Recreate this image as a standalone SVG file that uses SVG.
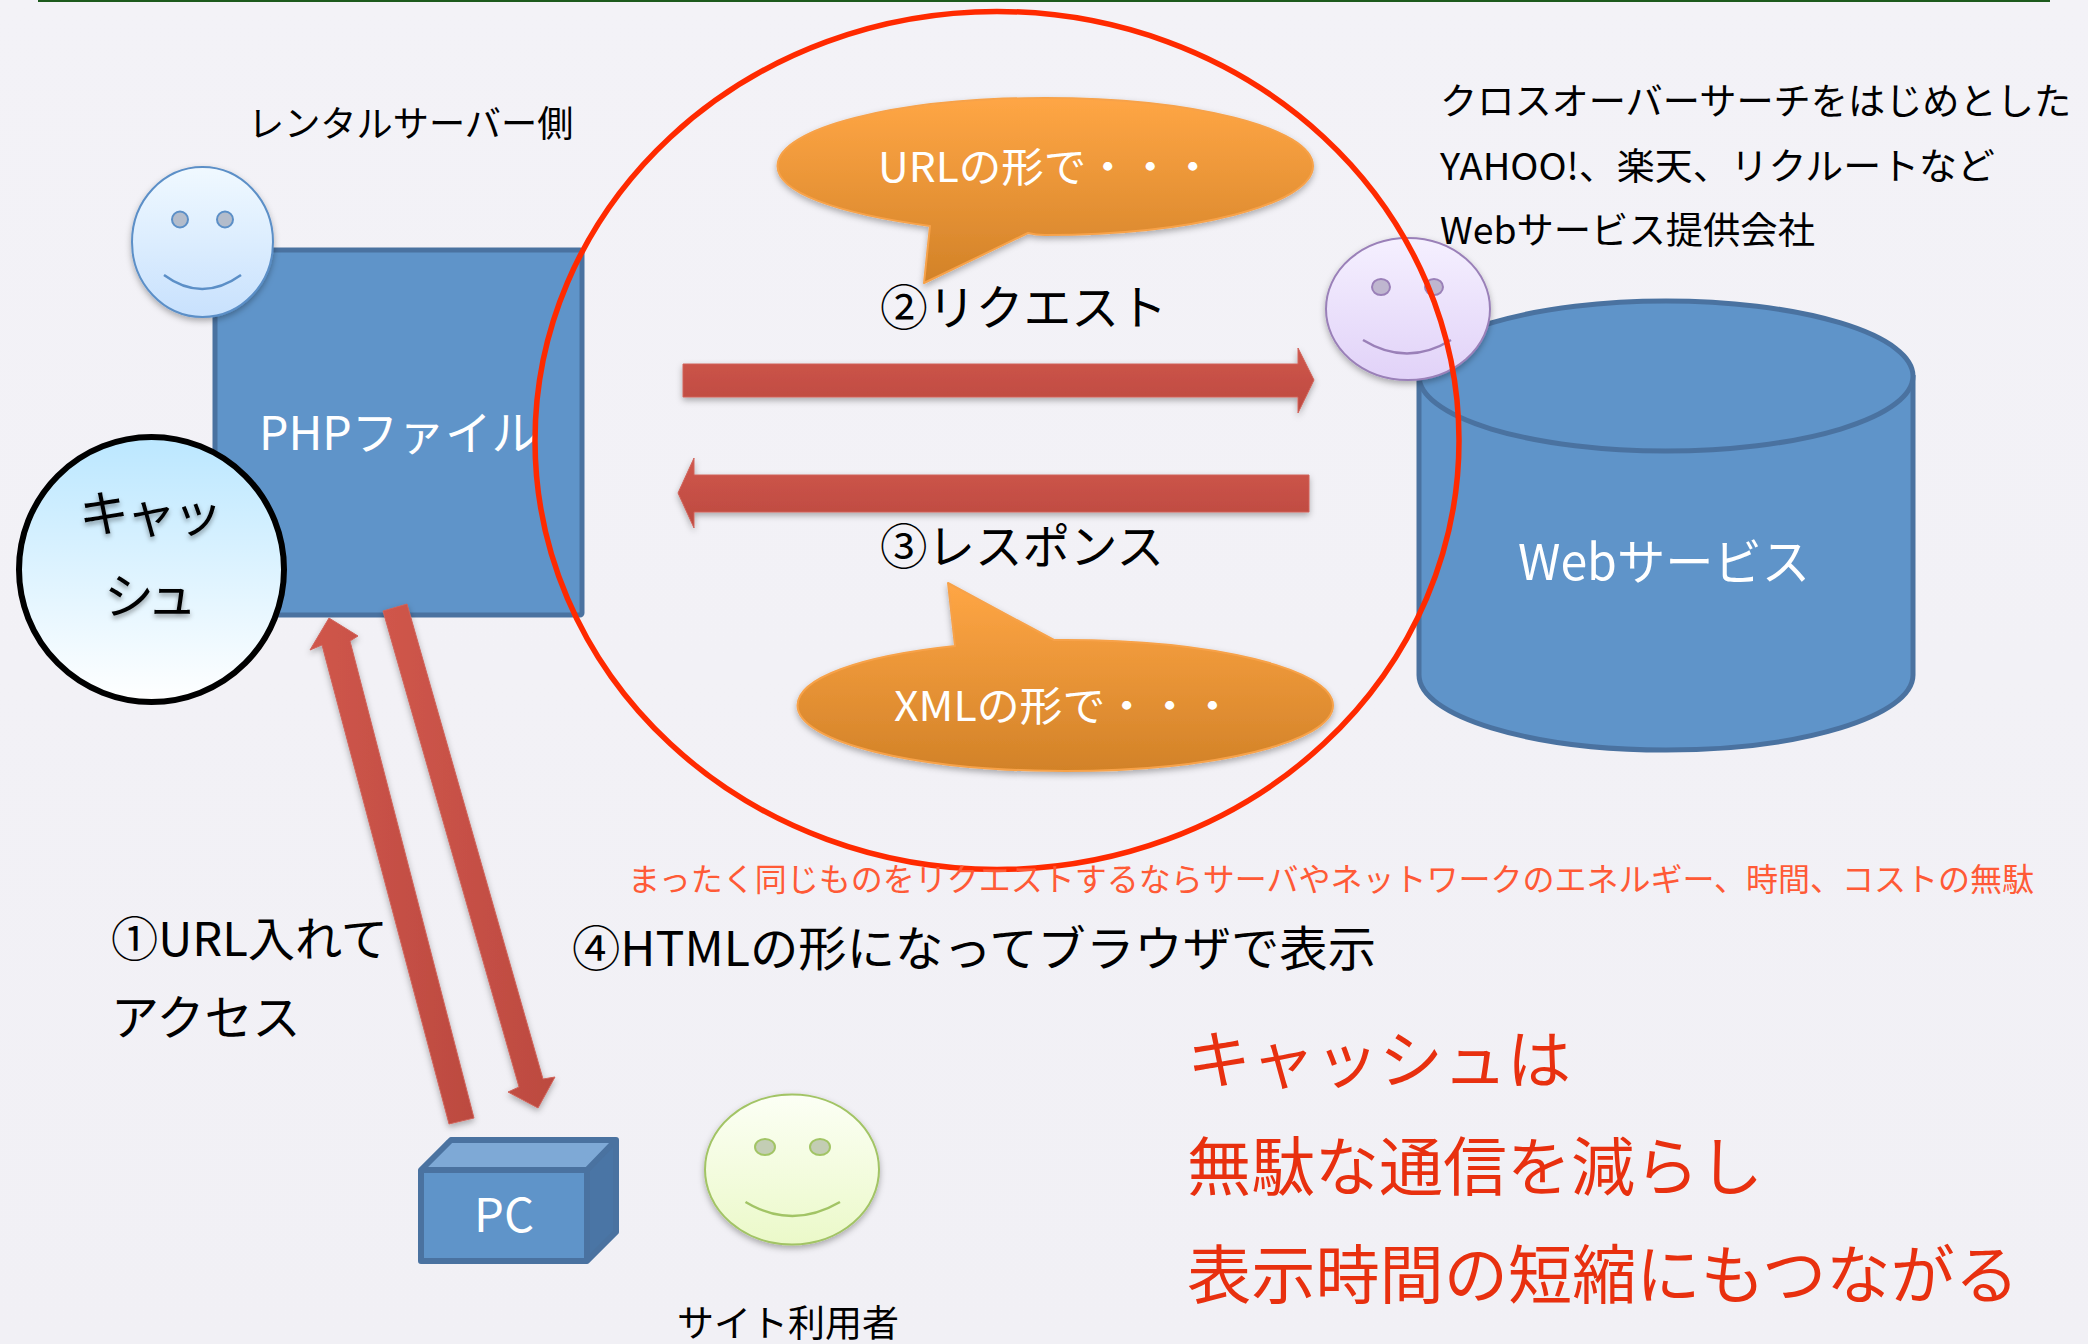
<svg xmlns="http://www.w3.org/2000/svg" width="2088" height="1344" viewBox="0 0 2088 1344">
<defs>
<style>
text{font-family:"Noto Sans CJK JP","Noto Sans",sans-serif;fill:#000}
.w{fill:#fff}
.blue{fill:#5f94c9;stroke:#4a72a0;stroke-width:5;stroke-linejoin:round}
.r1{fill:#ff5a36}
.r2{fill:#e8300f}
.call{fill:url(#gCall);stroke:#f7a24a;stroke-width:2;stroke-linejoin:round;filter:url(#sh)}
.arrow{stroke:#d0635a;stroke-width:1;filter:url(#sh)}
.mouth{fill:none;stroke-width:2.5}
</style>
<filter id="sh" x="-20%" y="-20%" width="140%" height="150%"><feDropShadow dx="0" dy="3" stdDeviation="3" flood-color="#000" flood-opacity="0.3"/></filter>
<filter id="tsh" x="-20%" y="-20%" width="140%" height="150%"><feDropShadow dx="0" dy="3" stdDeviation="2.5" flood-color="#000" flood-opacity="0.4"/></filter>
<linearGradient id="gBg" x1="0" y1="0" x2="0" y2="1"><stop offset="0" stop-color="#f3f2f7"/><stop offset="1" stop-color="#f1f0f5"/></linearGradient>
<linearGradient id="gBlue" x1="0" y1="0" x2="0" y2="1"><stop offset="0" stop-color="#f0f9ff"/><stop offset="1" stop-color="#c8e1fd"/></linearGradient>
<linearGradient id="gPurple" x1="0" y1="0" x2="0" y2="1"><stop offset="0" stop-color="#f5f0ff"/><stop offset="1" stop-color="#e1d2f8"/></linearGradient>
<linearGradient id="gGreen" x1="0" y1="0" x2="0" y2="1"><stop offset="0" stop-color="#fcfff5"/><stop offset="1" stop-color="#ebf9c9"/></linearGradient>
<linearGradient id="gCache" x1="0" y1="0" x2="0" y2="1"><stop offset="0" stop-color="#bbe7ff"/><stop offset="1" stop-color="#ffffff"/></linearGradient>
<linearGradient id="gCall" x1="0" y1="0" x2="0" y2="1"><stop offset="0" stop-color="#ffa645"/><stop offset="1" stop-color="#d28228"/></linearGradient>
<linearGradient id="gArr" x1="0" y1="0" x2="0" y2="1"><stop offset="0" stop-color="#d0564b"/><stop offset="1" stop-color="#bc4a40"/></linearGradient>
<linearGradient id="gArrD" x1="0" y1="0" x2="1" y2="0"><stop offset="0" stop-color="#d0564b"/><stop offset="1" stop-color="#bc4a40"/></linearGradient>
</defs>
<rect width="2088" height="1344" fill="url(#gBg)"/>
<rect x="38" y="0" width="2012" height="2" fill="#1d5a1d"/>

<g id="php-file">
<rect class="blue" x="215" y="250" width="367" height="365" rx="2"/>
<text class="w" x="259" y="450" font-size="47" textLength="279" lengthAdjust="spacingAndGlyphs">PHPファイル</text>
</g>
<g id="server-smiley" filter="url(#sh)">
<ellipse cx="202.500" cy="242" rx="70.500" ry="75" fill="url(#gBlue)" stroke="#5b8fc7" stroke-width="2"/>
<ellipse cx="180" cy="219.500" rx="8" ry="8" fill="#b3bccb" stroke="#5b8fc7" stroke-width="2"/>
<ellipse cx="225" cy="219.500" rx="8" ry="8" fill="#b3bccb" stroke="#5b8fc7" stroke-width="2"/>
<path class="mouth" stroke="#5b8fc7" d="M164 275Q202 303 241 275"/>
</g>
<g id="cache">
<ellipse cx="151.500" cy="569.500" rx="132.500" ry="132.500" fill="url(#gCache)" stroke="#000" stroke-width="6"/>
<g filter="url(#tsh)">
<text x="79" y="532" font-size="50" textLength="144" lengthAdjust="spacing">キャッ</text>
<text x="104" y="614" font-size="50" textLength="93" lengthAdjust="spacing">シュ</text>
</g>
</g>
<text id="server-label" x="248" y="137" font-size="36.200">レンタルサーバー側</text>

<g id="web-service">
<path class="blue" d="M1419 375V675C1419 716 1530 750 1666 750S1913 716 1913 675V375"/>
<ellipse class="blue" cx="1666" cy="376" rx="247" ry="75"/>
<text class="w" x="1518" y="580" font-size="49" textLength="292" lengthAdjust="spacingAndGlyphs">Webサービス</text>
</g>
<g id="web-smiley" filter="url(#sh)">
<ellipse cx="1408" cy="309" rx="82" ry="71" fill="url(#gPurple)" stroke="#9a80b8" stroke-width="2"/>
<ellipse cx="1381" cy="287" rx="9" ry="8" fill="#bfb6cf" stroke="#9a80b8" stroke-width="2"/>
<ellipse cx="1434" cy="287" rx="9" ry="8" fill="#bfb6cf" stroke="#9a80b8" stroke-width="2"/>
<path class="mouth" stroke="#9a80b8" d="M1363 340Q1407 367 1451 340"/>
</g>
<g id="web-label">
<text x="1440" y="115" font-size="37.200">クロスオーバーサーチをはじめとした</text>
<text x="1440" y="180" font-size="37" textLength="555" lengthAdjust="spacingAndGlyphs">YAHOO!、楽天、リクルートなど</text>
<text x="1440" y="244" font-size="37" textLength="375" lengthAdjust="spacingAndGlyphs">Webサービス提供会社</text>
</g>

<g id="connectors">
<polygon class="arrow" fill="url(#gArr)" points="683,364 1298,364 1298,348 1314,380 1298,413 1298,397 683,397"/>
<polygon class="arrow" fill="url(#gArr)" points="1309,475 694,475 694,458 678,493 694,528 694,512 1309,512"/>
<polygon class="arrow" fill="url(#gArrD)" points="329,618 358,636 350,641 474,1118 449,1124 322,645 310,650"/>
<polygon class="arrow" fill="url(#gArrD)" points="383,611 407,604 543,1079 555,1077 538,1108 508,1092 519,1087"/>
</g>

<g id="url-callout">
<path class="call" d="M930 226C835 213 777.500 192 777.500 166C777.500 128 897 98 1045 98S1313 128 1313 166S1193 235 1045 235Q1036 235 1028 233L924 283Z"/>
<text class="w" x="878" y="182" font-size="41" textLength="336" lengthAdjust="spacingAndGlyphs">URLの形で・・・</text>
</g>
<g id="xml-callout">
<path class="call" d="M955 646C860 656 797.500 678 797.500 705.500C797.500 742 917 771 1065 771S1333 742 1333 705.500S1213 640 1065 640Q1059 640 1054 640L948 583Z"/>
<text class="w" x="894" y="721" font-size="41" textLength="340" lengthAdjust="spacingAndGlyphs">XMLの形で・・・</text>
</g>
<text id="request-label" x="880" y="325" font-size="48" textLength="287" lengthAdjust="spacingAndGlyphs">②リクエスト</text>
<text id="response-label" x="880" y="564" font-size="48" textLength="284" lengthAdjust="spacingAndGlyphs">③レスポンス</text>

<ellipse id="highlight" cx="997" cy="440.500" rx="462" ry="429" fill="none" stroke="#ff2a00" stroke-width="5.500"/>

<text id="waste-note" class="r1" x="628" y="891" font-size="32">まったく同じものをリクエストするならサーバやネットワークのエネルギー、時間、コストの無駄</text>
<text id="html-label" x="572" y="966" font-size="47.500" textLength="804" lengthAdjust="spacingAndGlyphs">④HTMLの形になってブラウザで表示</text>
<g id="access-label">
<text x="111" y="956" font-size="47" textLength="277" lengthAdjust="spacingAndGlyphs">①URL入れて</text>
<text x="111" y="1035" font-size="48">アクセス</text>
</g>

<g id="pc">
<path fill="#7ea9d6" d="M421 1170L447 1140H617L587 1170Z"/>
<path fill="#4a75a5" d="M587 1170L617 1140V1232L587 1263Z"/>
<path fill="none" stroke="#4a72a0" stroke-width="6" stroke-linejoin="round" d="M421 1170L451 1140H616V1232L587 1261H421ZM421 1170H587V1261M587 1170L616 1140"/>
<rect x="424" y="1173" width="160" height="85" fill="#5f94c9"/>
<text class="w" x="474" y="1232" font-size="47" textLength="60" lengthAdjust="spacingAndGlyphs">PC</text>
</g>
<g id="user-smiley" filter="url(#sh)">
<ellipse cx="792" cy="1169.500" rx="87" ry="75" fill="url(#gGreen)" stroke="#a2c465" stroke-width="2"/>
<ellipse cx="765" cy="1147" rx="10" ry="8" fill="#c3cdb4" stroke="#a2c465" stroke-width="2"/>
<ellipse cx="820" cy="1147" rx="10" ry="8" fill="#c3cdb4" stroke="#a2c465" stroke-width="2"/>
<path class="mouth" stroke="#a2c465" d="M745.500 1202Q792 1230 840 1202"/>
</g>
<text id="user-label" x="677" y="1337" font-size="37">サイト利用者</text>

<g id="conclusion">
<text class="r2" x="1187" y="1083" font-size="64">キャッシュは</text>
<text class="r2" x="1187" y="1190" font-size="64">無駄な通信を減らし</text>
<text class="r2" x="1187" y="1298" font-size="64.200">表示時間の短縮にもつながる</text>
</g>
</svg>
